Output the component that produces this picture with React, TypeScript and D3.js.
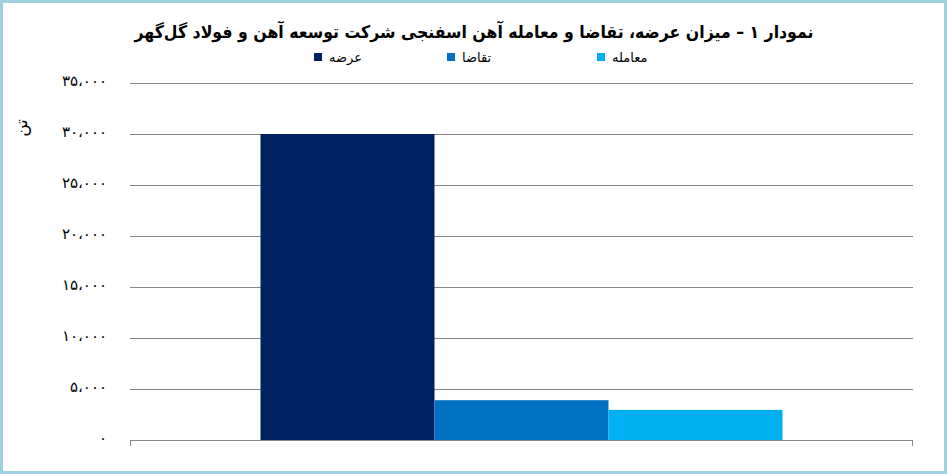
import React from "react";
import * as d3 from "d3";

const title = "نمودار ۱ – میزان عرضه، تقاضا و معامله آهن اسفنجی شرکت توسعه آهن و فولاد گل‌گهر";
const seriesNames = ["عرضه", "تقاضا", "معامله"];
const seriesValues = [30000, 3900, 2950];
const seriesColors = ["#002060", "#0070C0", "#00B0F0"];
const yTicks = [0, 5000, 10000, 15000, 20000, 25000, 30000, 35000];
const yUnit = "تن";
const category = ["آهن اسفنجی"];

const W = 947, H = 474;
const toFa = (n: number) =>
  d3.format(",")(n).replace(/,/g, "،").replace(/\d/g, (d) => "۰۱۲۳۴۵۶۷۸۹"[+d]);

export default function App() {
  const left = 130, right = 913, top = 83, bottom = 440;
  const y = d3.scaleLinear().domain([0, 35000]).range([bottom, top]);
  const xCat = d3.scaleBand().domain(category).range([left, right]).paddingInner(0).paddingOuter(0.25);
  const xSer = d3.scaleBand().domain(seriesNames).range([0, xCat.bandwidth()]).padding(0);
  const legendX = [314, 447, 597];
  return (
    <div style={{ position: "fixed", left: 0, top: 0, width: W, height: H, background: "#fff" }}>
      <svg width={W} height={H} style={{ display: "block" }}>
        <rect x={0} y={0} width={W} height={H} fill="#fff" />
        <rect x={1.5} y={1.5} width={W - 3} height={H - 3} fill="none" stroke="#9fd0e2" strokeWidth={3} />
        <text x={474} y={38} textAnchor="middle" direction="rtl" fontFamily="'DejaVu Sans Condensed', 'DejaVu Sans'" fontWeight="bold" fontSize={17.5} fill="#000">{title}</text>
        {seriesNames.map((s, i) => (
          <g key={s}>
            <rect x={legendX[i]} y={53} width={8} height={8} fill={seriesColors[i]} />
            <text x={legendX[i] + 15} y={62} textAnchor="start" fontFamily="DejaVu Sans" fontSize={13} fill="#000">{s}</text>
          </g>
        ))}
        {yTicks.map((t) => (
          <g key={t}>
            <line x1={left} x2={right} y1={Math.round(y(t)) + 0.5} y2={Math.round(y(t)) + 0.5} stroke="#868686" strokeWidth={1} />
            <text x={107} y={y(t) + 3} textAnchor="end" fontFamily="DejaVu Sans" fontSize={15} fill="#000">{toFa(t)}</text>
          </g>
        ))}
        <line x1={left + 0.5} x2={left + 0.5} y1={bottom} y2={bottom + 6} stroke="#868686" />
        <line x1={right - 0.5} x2={right - 0.5} y1={bottom} y2={bottom + 6} stroke="#868686" />
        {seriesNames.map((s, i) => (
          <rect key={s} x={(xCat(category[0]) as number) + (xSer(s) as number)} y={y(seriesValues[i])} width={xSer.bandwidth()} height={bottom - y(seriesValues[i])} fill={seriesColors[i]} />
        ))}
        <text transform={`translate(27,128) rotate(-90)`} textAnchor="middle" fontFamily="DejaVu Sans" fontSize={17} fill="#000">{yUnit}</text>
      </svg>
    </div>
  );
}
